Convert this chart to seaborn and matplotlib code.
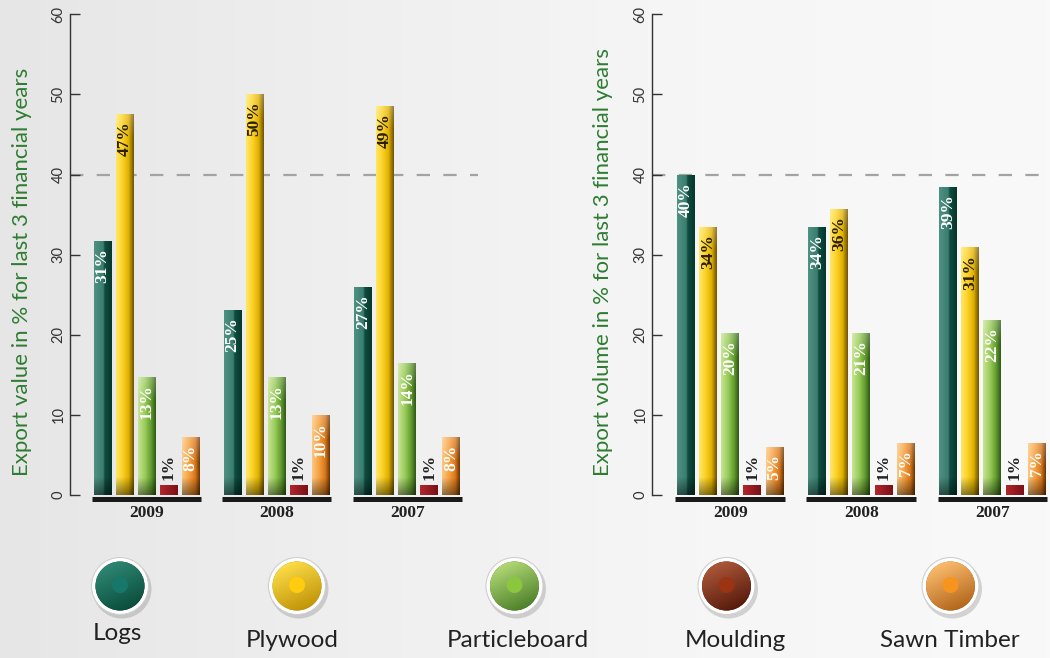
import numpy as np
import pandas as pd
import matplotlib
matplotlib.use("Agg")
import matplotlib.pyplot as plt
import seaborn as sns
from matplotlib.colors import LinearSegmentedColormap
from matplotlib.patches import Circle

# ---------------- data ----------------
years = ["2009", "2008", "2007"]
products = ["Logs", "Plywood", "Particleboard", "Moulding", "Sawn Timber"]

# Export value (left chart): bar heights as drawn, and printed labels
value_logs = [31.7, 23.1, 26.0]
value_plywood = [47.6, 50.0, 48.6]
value_particleboard = [14.7, 14.7, 16.5]
value_moulding = [1.25, 1.25, 1.25]
value_sawn = [7.2, 10.0, 7.2]
value_labels_logs = ["31%", "25%", "27%"]
value_labels_plywood = ["47%", "50%", "49%"]
value_labels_particleboard = ["13%", "13%", "14%"]
value_labels_moulding = ["1%", "1%", "1%"]
value_labels_sawn = ["8%", "10%", "8%"]

# Export volume (right chart)
volume_logs = [39.9, 33.5, 38.4]
volume_plywood = [33.5, 35.7, 30.9]
volume_particleboard = [20.2, 20.2, 21.8]
volume_moulding = [1.25, 1.25, 1.25]
volume_sawn = [6.0, 6.5, 6.5]
volume_labels_logs = ["40%", "34%", "39%"]
volume_labels_plywood = ["34%", "36%", "31%"]
volume_labels_particleboard = ["20%", "21%", "22%"]
volume_labels_moulding = ["1%", "1%", "1%"]
volume_labels_sawn = ["5%", "7%", "7%"]

y_ticks = [0, 10, 20, 30, 40, 50, 60]
ylabel_value = "Export value in % for last 3 financial years"
ylabel_volume = "Export volume in % for last 3 financial years"

# ---------------- styles ----------------
base_colors = {"Logs": "#1f5f52", "Plywood": "#f5c800", "Particleboard": "#7ab840",
               "Moulding": "#9b1b20", "Sawn Timber": "#f09030"}
bar_stops = {
    "Logs": [(0, "#4e9283"), (0.52, "#3b7d6e"), (0.6, "#0f4d40"), (1, "#06372c")],
    "Plywood": [(0, "#ffe866"), (0.35, "#fdd22a"), (0.7, "#e0b200"), (1, "#6e5206")],
    "Particleboard": [(0, "#c8e492"), (0.4, "#98cb5a"), (0.75, "#5f9a2c"), (1, "#30561a")],
    "Moulding": [(0, "#b3262d"), (1, "#7a1016")],
    "Sawn Timber": [(0, "#fcc882"), (0.4, "#f6a040"), (0.75, "#d8761a"), (1, "#683606")],
}
text_colors = {"Logs": "white", "Plywood": "#2a2000", "Particleboard": "white",
               "Moulding": "#222222", "Sawn Timber": "white"}
legend_colors = {  # light, dark, dot
    "Logs": ("#2f8a76", "#064535", "#15786a"),
    "Plywood": ("#ffe04a", "#b88a00", "#ffcc10"),
    "Particleboard": ("#b6dc78", "#3f7420", "#8cc63f"),
    "Moulding": ("#b05a3c", "#4a1204", "#9a3412"),
    "Sawn Timber": ("#ffc070", "#a85a10", "#f7941d"),
}

sns.set_style("white")
plt.rcParams["font.family"] = ["Lato", "DejaVu Sans"]

W, H = 1050, 658
fig = plt.figure(figsize=(W / 100, H / 100), dpi=100)

# background + legend layer in pixel coordinates
bg = fig.add_axes([0, 0, 1, 1], zorder=0)
bg.set_xlim(0, W)
bg.set_ylim(H, 0)
bg.axis("off")
grad = LinearSegmentedColormap.from_list("bg", ["#e6e6e6", "#efefef", "#f6f6f6", "#f9f9f9"])
bg.imshow(grad(np.linspace(0, 1, 256))[None, :, :3], extent=[0, W, H, 0],
          aspect="auto", zorder=0)


def shade_bar(ax, bar, stops, bottom_dark=True, top_light=0.0):
    x0, w, h = bar.get_x(), bar.get_width(), bar.get_height()
    cmap = LinearSegmentedColormap.from_list("c", stops)
    row = cmap(np.linspace(0, 1, 64))[:, :3]
    ys = np.linspace(0, h, 256)
    img = np.repeat(row[None, :, :], len(ys), axis=0)
    if bottom_dark:
        f = 0.55 + 0.45 * np.clip(ys / 2.2, 0, 1)
        img = img * f[:, None, None]
    if top_light:
        t = np.clip(1 - (h - ys) / 3.0, 0, 1) * top_light
        img = img * (1 - t[:, None, None]) + t[:, None, None]
    im = ax.imshow(img, extent=[x0, x0 + w, 0, h], origin="lower", aspect="auto",
                   zorder=bar.get_zorder() + 0.1, interpolation="bilinear")
    im.set_clip_path(bar)


def draw_panel(rect, series, labels, xlim):
    ax = fig.add_axes(rect, zorder=2)
    ax.patch.set_alpha(0)
    rows = []
    for p in products:
        for y, v in zip(years, series[p]):
            rows.append({"year": y, "product": p, "value": v})
    df = pd.DataFrame(rows)
    sns.barplot(data=df, x="year", y="value", hue="product", order=years,
                hue_order=products, palette=base_colors, width=0.845, gap=0.2,
                saturation=1, errorbar=None, legend=False, ax=ax, zorder=3)
    for p, cont in zip(products, ax.containers):
        for i, bar in enumerate(cont):
            bar.set_edgecolor("none")
            shade_bar(ax, bar, bar_stops[p], bottom_dark=(p != "Moulding"),
                      top_light=0.0 if p in ("Logs", "Moulding") else 0.25)
            cx = bar.get_x() + bar.get_width() / 2
            h = bar.get_height()
            if p == "Moulding":
                ax.text(cx, h + 0.6, labels[p][i], rotation=90, ha="center", va="bottom",
                        fontsize=12.5, fontweight="bold", family="Liberation Serif",
                        color=text_colors[p], zorder=6)
            else:
                ax.text(cx, h - 0.9, labels[p][i], rotation=90, ha="center", va="top",
                        fontsize=12.5, fontweight="bold", family="Liberation Serif",
                        color=text_colors[p], zorder=6)
    # black plates under each year group
    for i in range(len(years)):
        bars = [c[i] for c in ax.containers]
        x0 = min(b.get_x() for b in bars) - 0.012
        x1 = max(b.get_x() + b.get_width() for b in bars) + 0.012
        ax.plot([x0, x1], [-0.56, -0.56], color="#1a1a1a", lw=3.6,
                solid_capstyle="butt", clip_on=False, zorder=5)
    ax.axhline(40, color="#a3a3a3", lw=1.6, dashes=(6, 6), zorder=0.5)
    ax.set_xlim(*xlim)
    ax.set_ylim(0, 60)
    ax.set_yticks(y_ticks)
    for s in ("top", "right", "bottom"):
        ax.spines[s].set_visible(False)
    ax.spines["left"].set_color("#333333")
    ax.spines["left"].set_linewidth(1.0)
    ax.tick_params(axis="y", direction="in", length=7, width=1, color="#333333",
                   labelsize=10.5, labelcolor="#333333", pad=3, left=True)
    for t in ax.get_yticklabels():
        t.set_rotation(90)
        t.set_va("center")
        t.set_ha("right")
    ax.tick_params(axis="x", length=0, pad=7)
    for t in ax.get_xticklabels():
        t.set_fontfamily("Liberation Serif")
        t.set_fontweight("bold")
        t.set_fontsize(12.5)
        t.set_color("#222222")
    ax.set_xlabel("")
    ax.set_ylabel("")
    ax.grid(False)
    return ax


value_series = {"Logs": value_logs, "Plywood": value_plywood,
                "Particleboard": value_particleboard, "Moulding": value_moulding,
                "Sawn Timber": value_sawn}
value_lbls = {"Logs": value_labels_logs, "Plywood": value_labels_plywood,
              "Particleboard": value_labels_particleboard,
              "Moulding": value_labels_moulding, "Sawn Timber": value_labels_sawn}
volume_series = {"Logs": volume_logs, "Plywood": volume_plywood,
                 "Particleboard": volume_particleboard, "Moulding": volume_moulding,
                 "Sawn Timber": volume_sawn}
volume_lbls = {"Logs": volume_labels_logs, "Plywood": volume_labels_plywood,
               "Particleboard": volume_labels_particleboard,
               "Moulding": volume_labels_moulding, "Sawn Timber": volume_labels_sawn}

bottom = 1 - 495 / H
height = 480.7 / H
draw_panel([69.5 / W, bottom, 408 / W, height], value_series, value_lbls, (-0.59, 2.54))
draw_panel([651.5 / W, bottom, 398.5 / W, height], volume_series, volume_lbls, (-0.6, 2.44))

fig.text(22 / W, 1 - 272 / H, ylabel_value, rotation=90, ha="center", va="center",
         fontsize=16, color="#2e7d32")
fig.text(603 / W, 1 - 262 / H, ylabel_volume, rotation=90, ha="center", va="center",
         fontsize=16, color="#2e7d32")

# ---------------- legend ----------------
leg_cx = [120, 297, 514.5, 726.5, 950.5]
leg_cy = 586
leg_tx = [117, 292.5, 518, 735, 950]
leg_ty = [640, 647, 647, 647, 647]
for p, cx, tx, ty in zip(products, leg_cx, leg_tx, leg_ty):
    light, dark, dot = legend_colors[p]
    bg.add_patch(Circle((cx + 2, leg_cy + 3), 29.5, fc="black", ec="none", alpha=0.15, zorder=2))
    bg.add_patch(Circle((cx, leg_cy), 28.5, fc="white", ec="#cfcfcf", lw=0.8, zorder=3))
    inner = Circle((cx, leg_cy), 24.5, fc=dark, ec="none", zorder=4)
    bg.add_patch(inner)
    n = 80
    gx, gy = np.meshgrid(np.linspace(-1, 1, n), np.linspace(-1, 1, n))
    t = np.clip((gy + 0.45 * gx + 1.2) / 2.6, 0, 1)
    cm = LinearSegmentedColormap.from_list("l", [light, dark])
    img = cm(t)[:, :, :3]
    im = bg.imshow(img, extent=[cx - 25, cx + 25, leg_cy + 25, leg_cy - 25], origin="upper",
                   aspect="auto", zorder=5, interpolation="bilinear")
    im.set_clip_path(inner)
    bg.add_patch(Circle((cx, leg_cy - 1), 8, fc=dot, ec="none", zorder=6))
    bg.text(tx, ty, p, ha="center", va="baseline", fontsize=17.5, color="#222222",
            family=["Lato", "DejaVu Sans"], zorder=7)

fig.savefig("out.png", dpi=100)
